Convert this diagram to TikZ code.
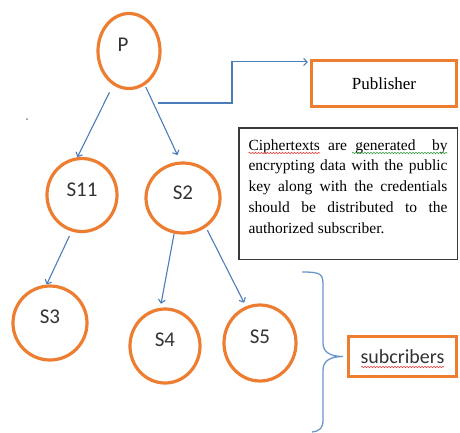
\documentclass[tikz,border=0pt]{standalone}
\usepackage{fontspec}
\setmainfont{Liberation Serif}
\newfontfamily\calibri{Carlito}
\usetikzlibrary{arrows.meta,calc,shapes.geometric,decorations.pathmorphing}
\definecolor{ring}{HTML}{ED7D31}
\definecolor{edge}{HTML}{4A7EBB}
\definecolor{bracket}{HTML}{6A95CC}
\definecolor{ink}{HTML}{333333}
\definecolor{frameink}{HTML}{3A3A3A}
\definecolor{typo}{HTML}{E23A3A}
\definecolor{gram}{HTML}{2E9E3E}

\begin{document}
\begin{tikzpicture}[x=1pt,y=-1pt,
  every node/.style={text=ink,inner sep=0pt},
  member/.style={ellipse,draw=ring,line width=3.2pt},
  tag/.style={font=\calibri\fontsize{21}{24}\selectfont,text=ink},
  link/.style={draw=edge,line width=1.1pt,-{Straight Barb[length=3.5pt,width=7pt]}},
  frame/.style={draw=ring,line width=3.2pt},
  notebox/.style={draw=frameink,line width=1.5pt,inner xsep=9.75pt,inner ysep=8.75pt,text=black},
  squiggle/.style={draw=#1,line width=.6pt,decorate,
    decoration={snake,amplitude=.7pt,segment length=3pt}}]
\useasboundingbox (0,0) rectangle (460,432);

% publisher and its subscriber tree
\node[member,minimum width=62pt,minimum height=75pt,
  label={[tag,xshift=-6pt,yshift=6pt]center:P}] (p) at (129,51) {};
\node[member,minimum width=70pt,minimum height=73pt,
  label={[tag,yshift=5pt]center:S11}] (s11) at (82,195) {};
\node[member,minimum width=74pt,minimum height=70pt,
  label={[tag,yshift=5pt]center:S2}] (s2) at (183,198) {};
\node[member,minimum width=74pt,minimum height=74pt,
  label={[tag,yshift=6pt]center:S3}] (s3) at (50,323) {};
\node[member,minimum width=70pt,minimum height=74pt,
  label={[tag,yshift=6pt]center:S4}] (s4) at (165,346) {};
\node[member,minimum width=72pt,minimum height=76pt,
  label={[tag,yshift=6pt]center:S5}] (s5) at (260,343) {};

\draw[link,shorten <=8pt] (p.245) -- (s11.97);
\draw[link,shorten <=2pt,shorten >=7pt] (p.295) -- (s2.94);
\draw[link,shorten <=5pt] (s11.254) -- (s3.95);
\draw[link,shorten >=4pt] (s2.256) -- (s4.97);
\draw[link,shorten <=3pt,shorten >=4pt] (s2.308) -- (s5.111);

\node[frame,minimum width=145pt,minimum height=46pt,
  font=\fontsize{17}{20}\selectfont,text=black] (pub) at (384,83.5) {Publisher};
\coordinate (tap) at (158,103);
\draw[link,shorten >=2pt] (tap) -- ++(74,0) |- ([yshift=-3pt]pub.north west);

\node[notebox,anchor=north west] (note) at (238,127)
  {\parbox[t][114pt][t]{199pt}{\vspace*{3pt}\fontsize{15.5}{20.7}\selectfont\hyphenpenalty=10000
  Ciphertexts are generated\ \ by\linebreak
  encrypting data with the public\linebreak
  key along with the credentials\linebreak
  should be distributed to the\linebreak
  authorized subscriber.}};
% spell-check marks under the first line
\draw[squiggle=typo] (248.5,153) -- (320,153);
\draw[squiggle=gram] (352,153) -- (447,153);

\node[frame,minimum width=108pt,minimum height=40pt,
  font=\calibri\fontsize{20}{24}\selectfont] (subs) at (402.5,356.5) {subcribers};
\draw[squiggle=typo] (361,367) -- (444,367);
% brace gathering the leaf subscribers
\coordinate (tip) at ([xshift=-4pt]subs.west);
\draw[draw=bracket,line width=1.3pt]
  (302,272) .. controls (321,272) and (323,274) .. (323,285) -- (323,343)
  .. controls (323,352) and (330,356.5) .. (tip)
  .. controls (330,356.5) and (323,361) .. (323,370) -- (323,420)
  .. controls (323,428) and (320,431) .. (312,432);

\fill[gray] (27,119) circle (1pt);
\end{tikzpicture}
\end{document}
